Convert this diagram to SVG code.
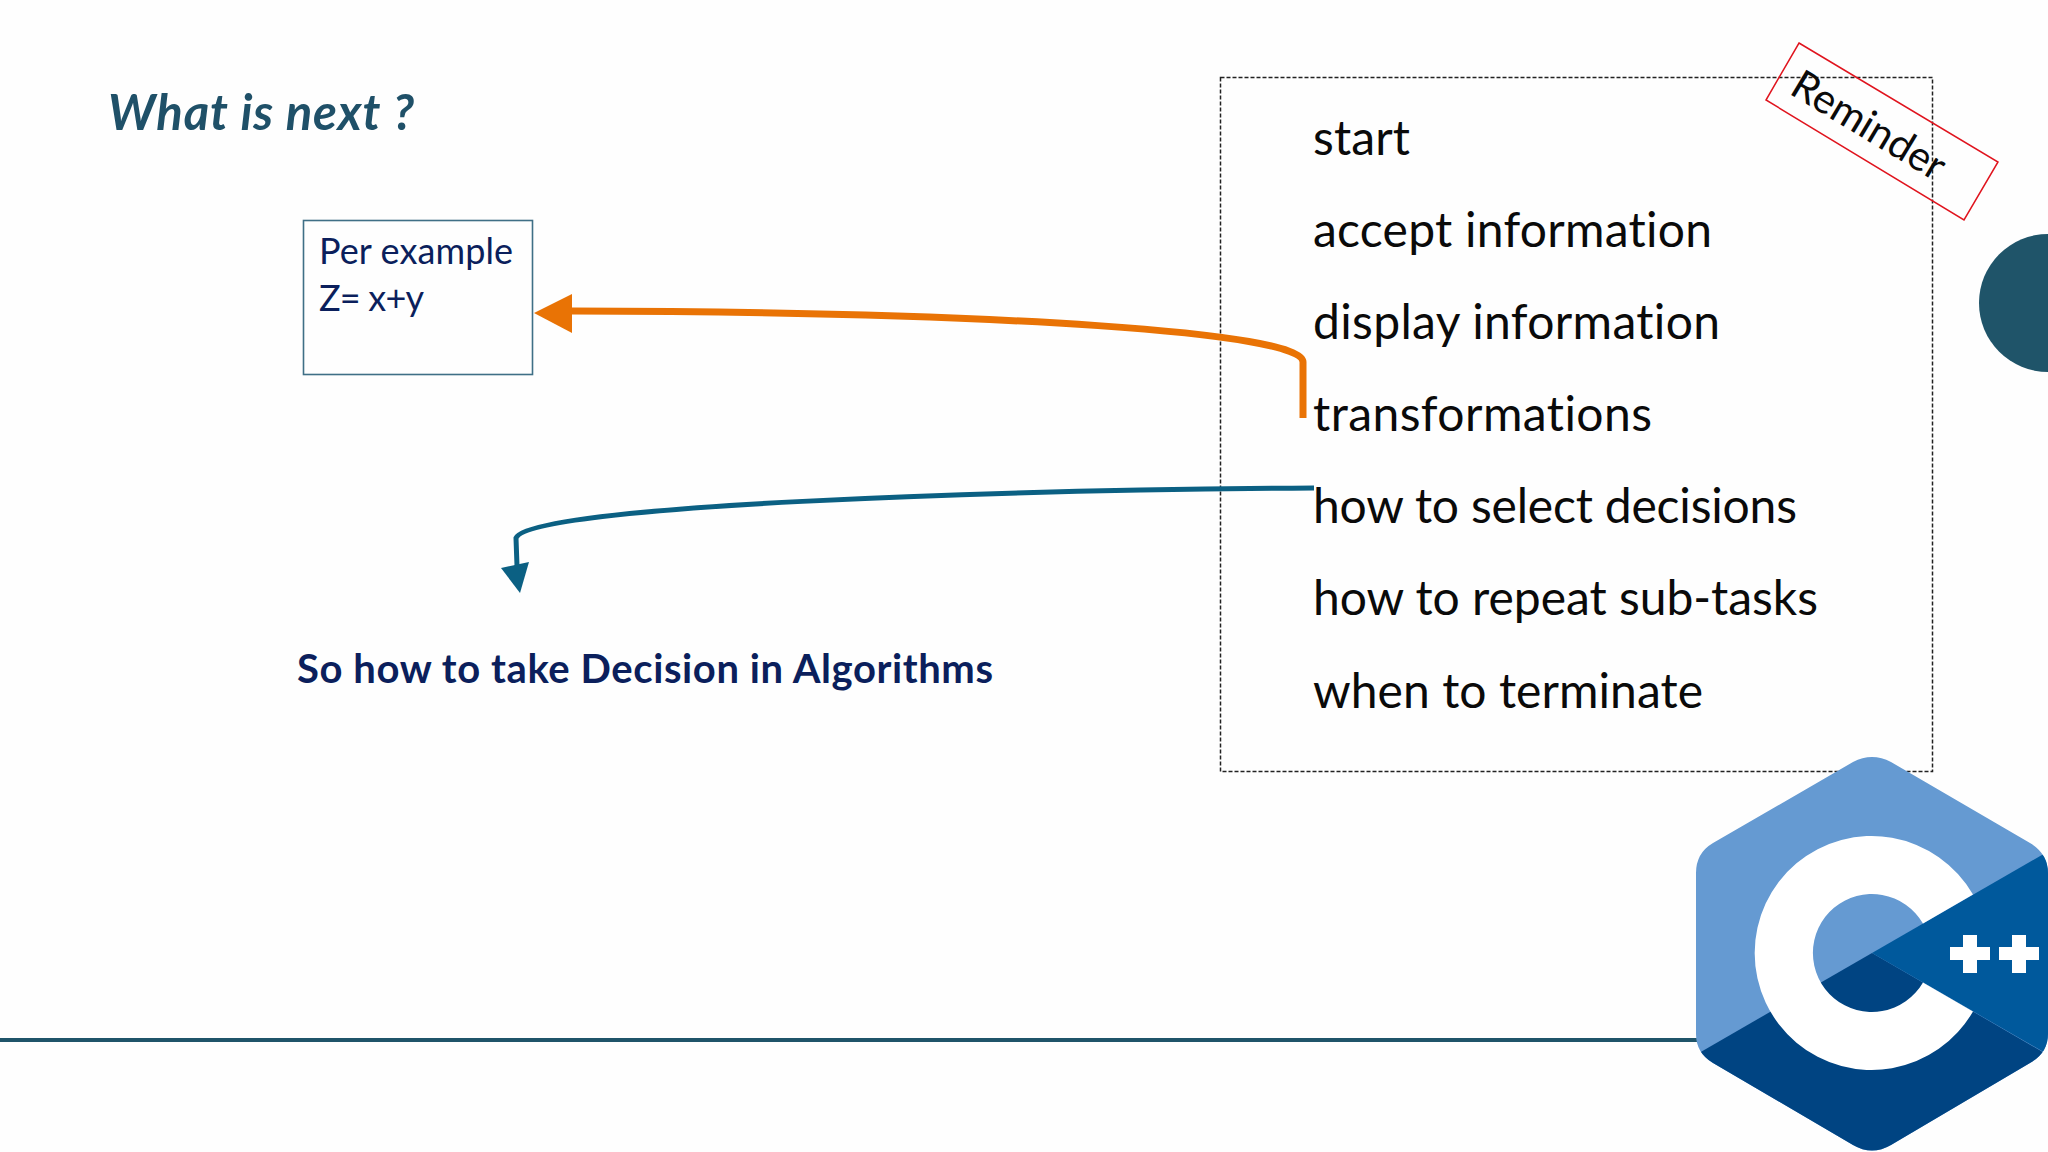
<svg xmlns="http://www.w3.org/2000/svg" width="2048" height="1152" viewBox="0 0 2048 1152">
<defs>
<style>
text{font-variant-ligatures:none}
.item{font-family:"Lato","Open Sans",sans-serif;font-size:48px;fill:#0a0a0a}
.navy{font-family:"Lato","Open Sans",sans-serif;fill:#0b1f5c}
</style>
<clipPath id="hex"><path d="M1853 762Q1872 752 1891 762L2030 843Q2048 854 2048 873L2048 1034Q2048 1053 2030 1063L1891 1145Q1872 1156 1853 1145L1713 1063Q1696 1053 1696 1034L1696 873Q1696 853 1713 843Z"/></clipPath>
</defs>
<rect width="2048" height="1152" fill="#fefefe"/>
<rect id="baseline-rule" x="0" y="1038" width="1700" height="4" fill="#1f5469"/>
<ellipse id="side-circle" cx="2048" cy="303" rx="69" ry="69" fill="#1f5469"/>
<text id="title" x="108" y="130" font-family="Lato,'Open Sans',sans-serif" font-size="49" font-weight="700" font-style="italic" fill="#1f5068" textLength="306">What is next ?</text>
<g id="example-box">
<rect x="303.500" y="220.500" width="229" height="154" fill="none" stroke="#3f6f86" stroke-width="1.600"/>
<text class="navy" x="319" y="264" font-size="36" textLength="194">Per example</text>
<text class="navy" x="319" y="310.500" font-size="36" textLength="105">Z= x+y</text>
</g>
<g id="reminder-box">
<rect x="1220.500" y="77.500" width="712" height="694" fill="none" stroke="#222" stroke-width="1.500" stroke-dasharray="4 2"/>
<text class="item" x="1313" y="155" textLength="97">start</text>
<text class="item" x="1313" y="247" textLength="399">accept information</text>
<text class="item" x="1313" y="339" textLength="407">display information</text>
<text class="item" x="1313" y="431" textLength="339">transformations</text>
<text class="item" x="1313" y="523" textLength="484">how to select decisions</text>
<text class="item" x="1313" y="615" textLength="505">how to repeat sub-tasks</text>
<text class="item" x="1313" y="708" textLength="390">when to terminate</text>
</g>
<g id="reminder-tag">
<path d="M1799 43L1998 162L1964 220L1766 100Z" fill="none" stroke="#e0141e" stroke-width="1.500"/>
<text x="1788" y="93" transform="rotate(31 1788 93)" font-family="Lato,'Open Sans',sans-serif" font-size="41" fill="#0a0a0a">Reminder</text>
</g>
<text id="decision-label" class="navy" x="297" y="683" font-size="40" font-weight="700" textLength="696">So how to take Decision in Algorithms</text>
<g id="connectors">
<path d="M1303 418L1303 362C1303 332 1000 312 572 311" fill="none" stroke="#e97305" stroke-width="7"/>
<path d="M572 294L534 313L572 333Z" fill="#e97305"/>
<path d="M1314 488C1000 490 530 505 516 538L517 566" fill="none" stroke="#0b6083" stroke-width="5"/>
<path d="M501 568L529 562L520 593Z" fill="#0b6083"/>
</g>
<g id="cpp-logo">
<g clip-path="url(#hex)">
<rect x="1690" y="750" width="360" height="410" fill="#659ad2"/>
<path d="M1872 953L1680 1064L1680 1160L2060 1160L2060 1062Z" fill="#004482"/>
<path d="M1872 953L2060 844.500L2060 1061.500Z" fill="#00599c"/>
</g>
<path d="M1973 894.500A117 117 0 1 0 1973 1011.500L1923 982.500A59 59 0 1 1 1923 923.500Z" fill="#fff"/>
<path d="M1963 935h14v12h13v13h-13v13h-14v-13h-13v-13h13zM2012 935h14v12h13v13h-13v13h-14v-13h-13v-13h13z" fill="#fff"/>
</g>
</svg>
